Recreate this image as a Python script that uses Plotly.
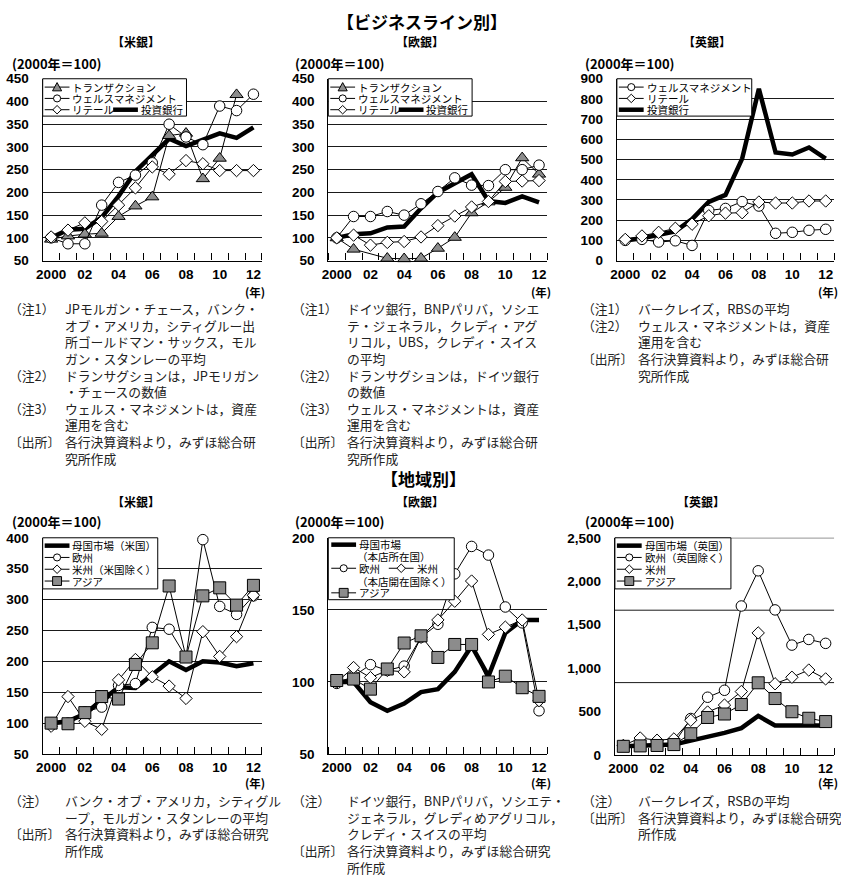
import plotly.graph_objects as go

W, H = 841, 879
GOTHIC = "Noto Sans CJK JP"
NUMFONT = "Liberation Sans, Noto Sans CJK JP"

years = list(range(2000, 2013))
year_ticks = [2000, 2002, 2004, 2006, 2008, 2010, 2012]
year_labels = ["2000", "02", "04", "06", "08", "10", "12"]

# ---- business lines (2000 = 100) ----
us_transaction = [97, 104, 108, 110, 147, 170, 190, 325, 330, 230, 275, 415, None]
us_wealth = [100, 87, 87, 172, 222, 238, 265, 350, 322, 305, 390, 380, 416]
us_retail = [102, 117, 133, 136, 172, 210, 256, 240, 270, 263, 248, 248, 248]
us_ib = [100, 118, 120, 145, 192, 246, 282, 318, 302, 315, 330, 320, 343]

eu_transaction = [100, 75, None, 55, 54, 55, 77, 101, 155, 179, 211, 276, 240]
eu_wealth = [100, 147, 147, 158, 150, 175, 202, 232, 216, 215, 250, 250, 260]
eu_retail = [100, 106, 84, 90, 92, 102, 127, 148, 168, 180, 224, 225, 226]
eu_ib = [100, 108, 110, 123, 125, 165, 200, 220, 240, 181, 177, 191, 178]

uk_wealth = [100, 105, 92, 98, 75, 248, 258, 292, 270, 135, 140, 150, 155]
uk_retail = [105, 122, 140, 160, 180, 222, 235, 237, 290, 285, 285, 295, 295]
uk_ib = [100, 110, 128, 145, 205, 290, 325, 505, 850, 535, 525, 560, 505]

# ---- regions (2000 = 100) ----
us_home = [100, 103, 115, 136, 158, 157, 178, 200, 186, 200, 198, 192, 197]
us_europe = [97, 100, 118, 126, 161, 164, 255, 252, 207, 397, 289, 276, 306]
us_americas = [95, 143, 103, 90, 170, 203, 175, 160, 140, 248, 208, 240, 307]
us_asia = [100, 99, 117, 143, 139, 195, 230, 322, 207, 306, 319, 291, 323]

eu_home = [100, 100, 86, 80, 85, 93, 95, 107, 125, 104, 134, 143, 143]
eu_europe = [99, 104, 112, 108, 111, 131, 140, 175, 194, 188, 152, 141, 80]
eu_americas = [100, 110, 103, 108, 107, 131, 143, 156, 170, 133, 138, 143, 87]
eu_asia = [101, 102, 95, 109, 127, 132, 117, 126, 126, 100, 104, 96, 90]

uk_home = [100, 110, 115, 120, 165, 205, 255, 310, 450, 340, 340, 340, 340]
uk_europe = [110, 120, 120, 130, 420, 665, 745, 1715, 2120, 1670, 1265, 1330, 1285]
uk_americas = [110, 196, 170, 185, 400, 495, 575, 730, 1405, 820, 895, 978, 876]
uk_asia = [100, 105, 110, 120, 245, 432, 472, 581, 831, 650, 498, 423, 385]


def fx(p):
    return p / W


def fy(p):
    return 1 - p / H


GRAY = "#8c8c8c"
STYLES = {
    "tri": dict(mode="lines+markers", line=dict(color="black", width=1),
                marker=dict(symbol="triangle-up", size=11.5, color=GRAY,
                            line=dict(color="black", width=1))),
    "circ": dict(mode="lines+markers", line=dict(color="black", width=1),
                 marker=dict(symbol="circle", size=10.5, color="white",
                             line=dict(color="black", width=1))),
    "diam": dict(mode="lines+markers", line=dict(color="black", width=1),
                 marker=dict(symbol="diamond", size=9.5, color="white",
                             line=dict(color="black", width=1))),
    "sq": dict(mode="lines+markers", line=dict(color="black", width=1),
               marker=dict(symbol="square", size=12, color=GRAY,
                           line=dict(color="black", width=1))),
    "thick": dict(mode="lines", line=dict(color="black", width=4.5)),
}

fig = go.Figure()


def series(panel, values, kind):
    sfx = "" if panel == 1 else str(panel)
    st = STYLES[kind]
    kw = dict(x=years, y=values, xaxis="x" + sfx, yaxis="y" + sfx,
              mode=st["mode"], line=st["line"], connectgaps=True,
              cliponaxis=False, showlegend=False, hoverinfo="skip")
    if "marker" in st:
        kw["marker"] = st["marker"]
    fig.add_trace(go.Scatter(**kw))


# panel 1-3: business lines, panel 4-6: regions
series(1, us_ib, "thick")
series(1, us_transaction, "tri")
series(1, us_wealth, "circ")
series(1, us_retail, "diam")

series(2, eu_ib, "thick")
series(2, eu_transaction, "tri")
series(2, eu_wealth, "circ")
series(2, eu_retail, "diam")

series(3, uk_ib, "thick")
series(3, uk_wealth, "circ")
series(3, uk_retail, "diam")

series(4, us_home, "thick")
series(4, us_europe, "circ")
series(4, us_americas, "diam")
series(4, us_asia, "sq")

series(5, eu_home, "thick")
series(5, eu_europe, "circ")
series(5, eu_americas, "diam")
series(5, eu_asia, "sq")

series(6, uk_home, "thick")
series(6, uk_europe, "circ")
series(6, uk_americas, "diam")
series(6, uk_asia, "sq")

# plot frames in pixels: left, right, top, bottom
frames = [(36, 257, 73, 258), (324, 545, 73, 258), (615, 834, 73, 258),
          (36, 257, 540, 760), (324, 545, 540, 760), (613, 834, 540, 761)]
yscales = [(50, 450, 50), (50, 450, 50), (0, 900, 100),
           (50, 400, 50), (50, 200, 50), (0, 2500, 500)]

layout = dict(width=W, height=H, margin=dict(l=0, r=0, t=0, b=0),
              paper_bgcolor="white", plot_bgcolor="white", showlegend=False)

tickfont = dict(family=NUMFONT, size=13.5, color="black", weight="bold")
for i, ((l, r, t, b), (lo, hi, step)) in enumerate(zip(frames, yscales), start=1):
    sfx = "" if i == 1 else str(i)
    layout["xaxis" + sfx] = dict(
        domain=[fx(l), fx(r)], anchor="y" + sfx, range=[1999.5, 2012.5],
        tickmode="array", tickvals=year_ticks, ticktext=year_labels,
        ticks="", showgrid=False, zeroline=False,
        showline=True, linecolor="black", linewidth=1.3,
        minor=dict(tickmode="linear", tick0=1999.5, dtick=1, ticks="inside",
                   ticklen=7, tickcolor="black", tickwidth=1, showgrid=False),
        tickfont=tickfont, ticklabelstandoff=1, fixedrange=True)
    layout["yaxis" + sfx] = dict(
        domain=[fy(b), fy(t)], anchor="x" + sfx, range=[lo, hi],
        tickmode="linear", tick0=lo, dtick=step,
        showgrid=(i != 6), gridcolor="#1a1a1a", gridwidth=1, zeroline=False,
        showline=True, linecolor="black", linewidth=1.3, ticks="",
        tickformat=",d" if i == 6 else "d",
        tickfont=tickfont, ticklabelstandoff=10, fixedrange=True)

fig.update_layout(**layout)

# the UK regional panel splits its height into thirds for the grid
uk_region_grid = [2500 / 3, 5000 / 3, 2500]
for g in uk_region_grid:
    fig.add_shape(type="line", xref="x6 domain", yref="y6", x0=0, x1=1,
                  y0=g, y1=g, line=dict(color="#1a1a1a", width=1), layer="below")

annotations = []
shapes = []


def text(x, y, s, size, bold=False, anchor="left", family=GOTHIC, color="black",
         yanchor="middle"):
    annotations.append(dict(
        xref="paper", yref="paper", x=fx(x), y=fy(y), text=s, showarrow=False,
        xanchor=anchor, yanchor=yanchor, align="left",
        font=dict(family=family, size=size, color=color,
                  weight="bold" if bold else "normal")))


# ---- hand-built legends ----
def box(l, t, r, b):
    shapes.append(dict(type="rect", xref="paper", yref="paper",
                       x0=fx(l), x1=fx(r), y0=fy(b), y1=fy(t),
                       line=dict(color="black", width=1), fillcolor="white",
                       layer="above"))


def key(kind, x0, x1, y):
    xm = (x0 + x1) / 2
    w = 4.5 if kind == "thick" else 1
    shapes.append(dict(type="line", xref="paper", yref="paper",
                       x0=fx(x0), x1=fx(x1), y0=fy(y), y1=fy(y),
                       line=dict(color="black", width=w), layer="above"))
    edge = dict(color="black", width=1)
    if kind == "circ":
        r = 3.6
        shapes.append(dict(type="circle", xref="paper", yref="paper",
                           x0=fx(xm - r), x1=fx(xm + r), y0=fy(y + r), y1=fy(y - r),
                           fillcolor="white", line=edge, layer="above"))
    elif kind == "sq":
        h = 4.5
        shapes.append(dict(type="rect", xref="paper", yref="paper",
                           x0=fx(xm - h), x1=fx(xm + h), y0=fy(y + h), y1=fy(y - h),
                           fillcolor=GRAY, line=edge, layer="above"))
    elif kind == "diam":
        h = 4.3
        p = (f"M{fx(xm - h)},{fy(y)} L{fx(xm)},{fy(y - h)} "
             f"L{fx(xm + h)},{fy(y)} L{fx(xm)},{fy(y + h)} Z")
        shapes.append(dict(type="path", xref="paper", yref="paper", path=p,
                           fillcolor="white", line=edge, layer="above"))
    elif kind == "tri":
        h = 4.6
        p = (f"M{fx(xm - h)},{fy(y + 3.8)} L{fx(xm + h)},{fy(y + 3.8)} "
             f"L{fx(xm)},{fy(y - 4.6)} Z")
        shapes.append(dict(type="path", xref="paper", yref="paper", path=p,
                           fillcolor=GRAY, line=edge, layer="above"))


LEG = 10.5


def legend(l, t, r, b, rows):
    box(l, t, r, b)
    for item in rows:
        y = item[0]
        for kind, label, kx in item[1]:
            if kind:
                key(kind, kx, kx + 25, y)
                text(kx + 26, y, label, LEG)
            else:
                text(kx, y, label, LEG)


biz_names = ["トランザクション", "ウェルスマネジメント", "リテール", "投資銀行"]
for l in (36, 324):
    legend(l, 73, l + 145, 111, [
        (81.5, [("tri", biz_names[0], l + 2)]),
        (93, [("circ", biz_names[1], l + 2)]),
        (104.5, [("diam", biz_names[2], l + 2), ("thick", biz_names[3], l + 71)]),
    ])
legend(615, 73, 751, 111, [
    (81.5, [("circ", biz_names[1], 617)]),
    (93, [("diam", biz_names[2], 617)]),
    (104.5, [("thick", biz_names[3], 617)]),
])
legend(36, 540, 152, 592, [
    (548, [("thick", "母国市場（米国）", 38)]),
    (560, [("circ", "欧州", 38)]),
    (572, [("diam", "米州（米国除く）", 38)]),
    (584, [("sq", "アジア", 38)]),
])
legend(324, 540, 451, 603, [
    (547, [("thick", "母国市場", 327)]),
    (559, [(None, "（本店所在国）", 351)]),
    (571, [("circ", "欧州", 327), ("diam", "米州", 385)]),
    (584, [(None, "（本店開在国除く）", 351)]),
    (596, [("sq", "アジア", 327)]),
])
legend(613, 540, 730, 592, [
    (548, [("thick", "母国市場（英国）", 615)]),
    (560, [("circ", "欧州（英国除く）", 615)]),
    (572, [("diam", "米州", 615)]),
    (584, [("sq", "アジア", 615)]),
])

# ---- headings ----
text(418, 15, "【ビジネスライン別】", 17, bold=True, anchor="center")
text(420, 480, "【地域別】", 17, bold=True, anchor="center")
panel_titles = ["【米銀】", "【欧銀】", "【英銀】"]
for (x, y), s in zip([(130, 35), (416, 35), (706, 35), (130, 503), (416, 503), (700, 503)],
                     panel_titles * 2):
    text(x, y, s, 12, bold=True, anchor="center")

for x in (3, 288, 581):
    text(x, 57, "(2000年＝100)", 13, bold=True)
    text(x, 523, "(2000年＝100)", 13, bold=True)

for r in (250, 538, 828):
    text(r, 290, "(年)", 11.5, bold=True, anchor="center")
    text(r, 789, "(年)", 11.5, bold=True, anchor="center")

# ---- notes ----
NOTE = 12.8
note_us = [("（注1）", ["JPモルガン・チェース，バンク・", "オブ・アメリカ，シティグルー出",
                       "所ゴールドマン・サックス，モル", "ガン・スタンレーの平均"]),
           ("（注2）", ["ドランサグションは，JPモリガン", "・チェースの数値"]),
           ("（注3）", ["ウェルス・マネジメントは，資産", "運用を含む"]),
           ("〔出所〕", ["各行決算資料より，みずほ総合研", "究所作成"])]
note_eu = [("（注1）", ["ドイツ銀行，BNPパリバ，ソシエ", "テ・ジェネラル，クレディ・アグ",
                       "リコル，UBS，クレディ・スイス", "の平均"]),
           ("（注2）", ["ドランサグションは，ドイツ銀行", "の数値"]),
           ("（注3）", ["ウェルス・マネジメントは，資産", "運用を含む"]),
           ("〔出所〕", ["各行決算資料より，みずほ総合研", "究所作成"])]
note_uk = [("（注1）", ["バークレイズ，RBSの平均"]),
           ("（注2）", ["ウェルス・マネジメントは，資産", "運用を含む"]),
           ("〔出所〕", ["各行決算資料より，みずほ総合研", "究所作成"])]
note_us_r = [("（注）", ["バンク・オブ・アメリカ，シティグル", "ープ，モルガン・スタンレーの平均"]),
             ("〔出所〕", ["各行決算資料より，みずほ総合研究", "所作成"])]
note_eu_r = [("（注）", ["ドイツ銀行，BNPパリバ，ソシエテ・", "ジェネラル，グレディめアグリコル，",
                        "クレディ・スイスの平均"]),
             ("〔出所〕", ["各行決算資料より，みずほ総合研究", "所作成"])]
note_uk_r = [("（注）", ["バークレイズ，RSBの平均"]),
             ("〔出所〕", ["各行決算資料より，みずほ総合研究", "所作成"])]


def notes(x, y_top, blocks, indent=56):
    # labels in one column, wrapped note text in a second column
    labels, bodies = [], []
    for label, lines in blocks:
        for k, ln in enumerate(lines):
            labels.append(label if k == 0 else "\u3000")
            bodies.append(ln)
    text(x, y_top, "<br>".join(labels), NOTE, color="#222", yanchor="top")
    text(x + indent, y_top, "<br>".join(bodies), NOTE, color="#222", yanchor="top")


for x, blk in [(0, note_us), (285, note_eu), (578, note_uk)]:
    notes(x, 295, blk)
for x, blk in [(0, note_us_r), (285, note_eu_r), (578, note_uk_r)]:
    notes(x, 796, blk)

fig.update_layout(annotations=annotations, shapes=list(fig.layout.shapes) + shapes)
fig.write_html("out.html")
